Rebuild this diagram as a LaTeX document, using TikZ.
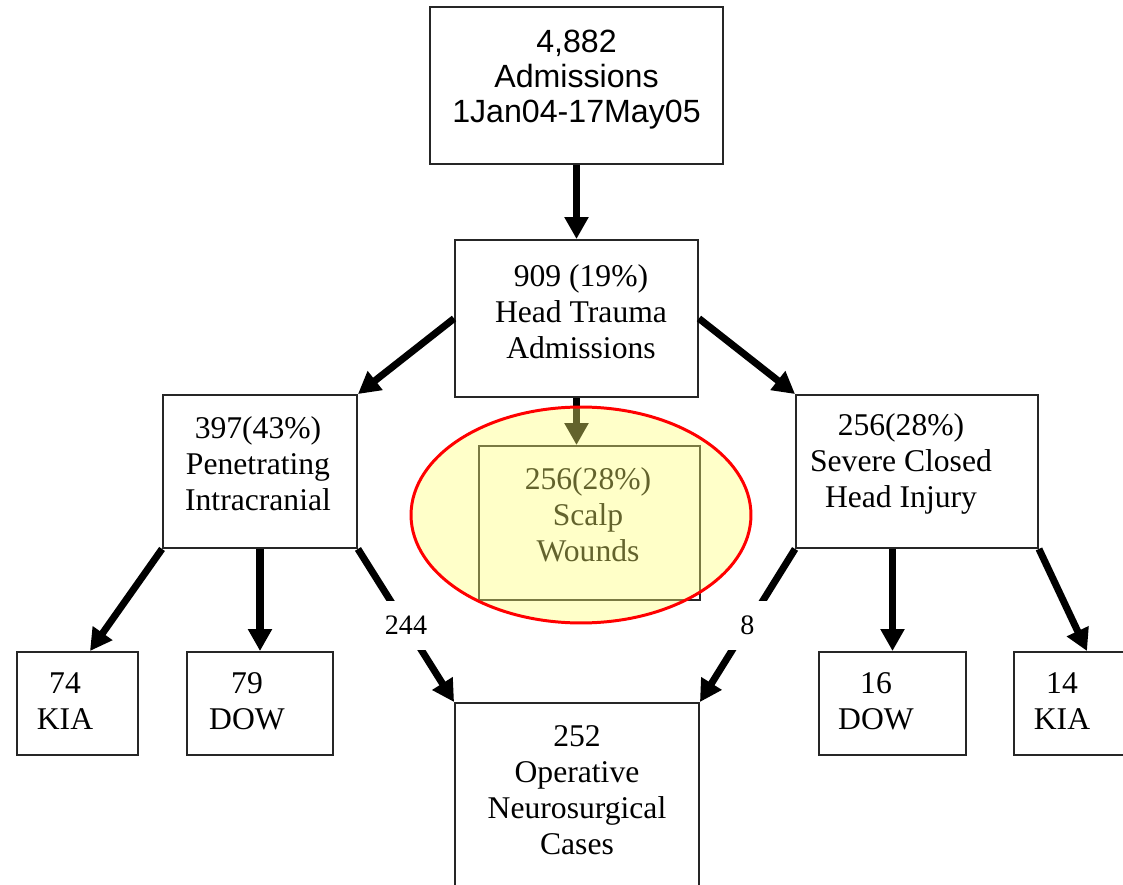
\documentclass[tikz,border=0pt]{standalone}
\usepackage{fontspec}
\setmainfont{Liberation Serif}
\newfontfamily\arialfont{Liberation Sans}
\usepackage{tikz}
\usetikzlibrary{shapes,arrows.meta}
\definecolor{hilite}{RGB}{255,255,115}

\begin{document}
\begin{tikzpicture}[x=0.02cm,y=-0.02cm,
    box/.style={draw=black!85,line width=1.1pt,fill=white,inner sep=0pt},
    txt/.style={align=center,font=\fontsize{18}{20.5}\selectfont},
    num/.style={fill=white,inner xsep=1pt,inner ysep=0.3cm,minimum width=0.8cm,font=\fontsize{16}{18}\selectfont},
    arr/.style={->,line width=4pt},
    >={Triangle[width=13pt,length=12.5pt]}]

\useasboundingbox (0,0) rectangle (1123,885);

\node [box,minimum width=5.86cm,minimum height=3.14cm,
  label={[txt,font=\arialfont\fontsize{18.3}{19.9}\selectfont,yshift=0.11cm]center:{4,882\\Admissions\\1Jan04-17May05}}] (adm) at (576.5,85.5) {};
\node [box,minimum width=4.86cm,minimum height=3.14cm,
  label={[txt,xshift=0.09cm,yshift=0.13cm]center:{909 (19\%)\\Head Trauma\\Admissions}}] (head) at (576.5,318.5) {};
\node [box,minimum width=3.88cm,minimum height=3.06cm,
  label={[txt,xshift=-0.04cm,yshift=0.15cm]center:{397(43\%)\\Penetrating\\Intracranial}}] (pen) at (260,471.5) {};
\node [box,minimum width=4.84cm,minimum height=3.06cm,
  label={[txt,xshift=-0.32cm,yshift=0.15cm]center:{256(28\%)\\Severe Closed\\Head Injury}}] (sev) at (917,471.5) {};
\node [box,minimum width=4.42cm,minimum height=3.08cm,
  label={[txt,xshift=-0.03cm,yshift=0.16cm]center:{256(28\%)\\Scalp\\Wounds}}] (scalp) at (589.5,523) {};
\node [box,minimum width=4.88cm,minimum height=4.04cm,
  label={[txt,yshift=0.28cm]center:{252\\Operative\\Neurosurgical\\Cases}}] (op) at (577,804) {};

\node [box,minimum width=2.42cm,minimum height=2.06cm,
  label={[txt,xshift=-0.25cm,yshift=0.05cm]center:{74\\KIA}}] (kia1) at (77.5,703.5) {};
\node [box,minimum width=2.92cm,minimum height=2.06cm,
  label={[txt,xshift=-0.26cm,yshift=0.05cm]center:{79\\DOW}}] (dow1) at (260,703.5) {};
\node [box,minimum width=2.94cm,minimum height=2.06cm,
  label={[txt,xshift=-0.33cm,yshift=0.05cm]center:{16\\DOW}}] (dow2) at (892.5,703.5) {};
\node [box,minimum width=2.92cm,minimum height=2.06cm,
  label={[txt,xshift=-0.5cm,yshift=0.05cm]center:{14\\KIA}}] (kia2) at (1087,703.5) {};

\foreach \a/\b in {adm.south/head.north, head.west/pen.north east, head.east/sev.north west,
    pen.south/dow1.north, sev.south east/kia2.north}
    \draw[arr] (\a) -- (\b);
\draw[arr] (pen.south west) -- ([xshift=0.25cm]kia1.north);
\draw[arr] (dow2.north |- sev.south) -- (dow2.north);
\draw[arr] (head.south) -- (head.south |- scalp.north);
\draw[arr] (pen.south east) -- node[num] {244} (op.north west);
\draw[arr] (sev.south west) -- node[num] {8} (op.north east);

\node [ellipse,draw=red,line width=1.7pt,fill=hilite,fill opacity=0.39,draw opacity=1,
  minimum width=6.8cm,minimum height=4.32cm] (hl) at (581,515) {};

\end{tikzpicture}
\end{document}
